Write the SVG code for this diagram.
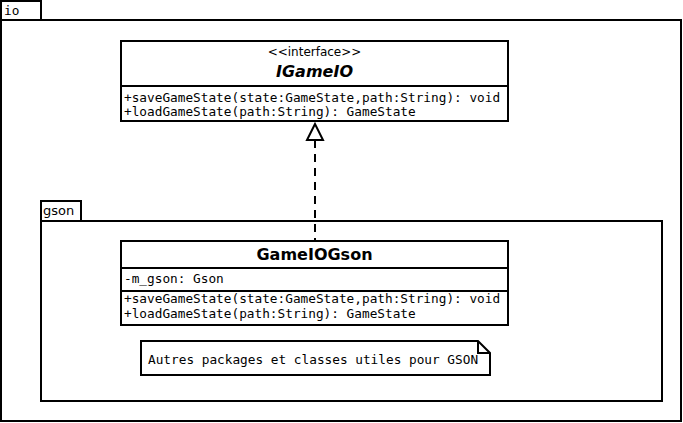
<svg xmlns="http://www.w3.org/2000/svg" width="683" height="423" viewBox="0 0 683 423">
<style>
.pk{fill:#fff;stroke:#000;stroke-width:2}
.bx{fill:#fff;stroke:#000;stroke-width:2}
.ln{stroke:#000;stroke-width:2;fill:none}
.mono{font-family:"DejaVu Sans Mono",monospace;font-size:12.75px;fill:#000}
.sans{font-family:"DejaVu Sans",sans-serif;fill:#000}
</style>
<rect width="683" height="423" fill="#fff"/>
<g id="pkg-io">
<rect class="pk" x="1" y="1" width="40" height="19"/>
<rect class="pk" x="1" y="20" width="680" height="401"/>
<text class="mono" x="4" y="15">io</text>
</g>
<g id="pkg-gson">
<rect class="pk" x="41" y="201" width="40" height="20"/>
<rect class="pk" x="41" y="221" width="621" height="180"/>
<text class="sans" x="43" y="215" font-size="13">gson</text>
</g>
<g id="IGameIO">
<rect class="bx" x="121" y="41" width="387" height="80"/>
<line class="ln" x1="121" y1="86" x2="508" y2="86"/>
<text class="sans" x="314.5" y="56" font-size="12" text-anchor="middle">&lt;&lt;interface&gt;&gt;</text>
<text class="sans" x="314.5" y="77" font-size="16" font-weight="bold" font-style="italic" text-anchor="middle">IGameIO</text>
<text class="mono" x="124" y="102">+saveGameState(state:GameState,path:String): void</text>
<text class="mono" x="124" y="116">+loadGameState(path:String): GameState</text>
</g>
<g id="GameIOGson">
<rect class="bx" x="121" y="241" width="387" height="84"/>
<line class="ln" x1="121" y1="268" x2="508" y2="268"/>
<line class="ln" x1="121" y1="291" x2="508" y2="291"/>
<text class="sans" x="314.5" y="260" font-size="16" font-weight="bold" text-anchor="middle">GameIOGson</text>
<text class="mono" x="124" y="283">-m_gson: Gson</text>
<text class="mono" x="124" y="303">+saveGameState(state:GameState,path:String): void</text>
<text class="mono" x="124" y="318">+loadGameState(path:String): GameState</text>
</g>
<g id="note">
<path class="bx" d="M141,341 H478 L490,353 V375 H141 Z"/>
<path class="ln" d="M478,341 V353 H490"/>
<text class="mono" x="148" y="364" font-size="12">Autres packages et classes utiles pour GSON</text>
</g>
<g id="connectors">
<line class="ln" x1="315" y1="140" x2="315" y2="241" stroke-dasharray="8,6"/>
<polygon points="315,124 307,140 323,140" fill="#fff" stroke="#000" stroke-width="2"/>
</g>
</svg>
